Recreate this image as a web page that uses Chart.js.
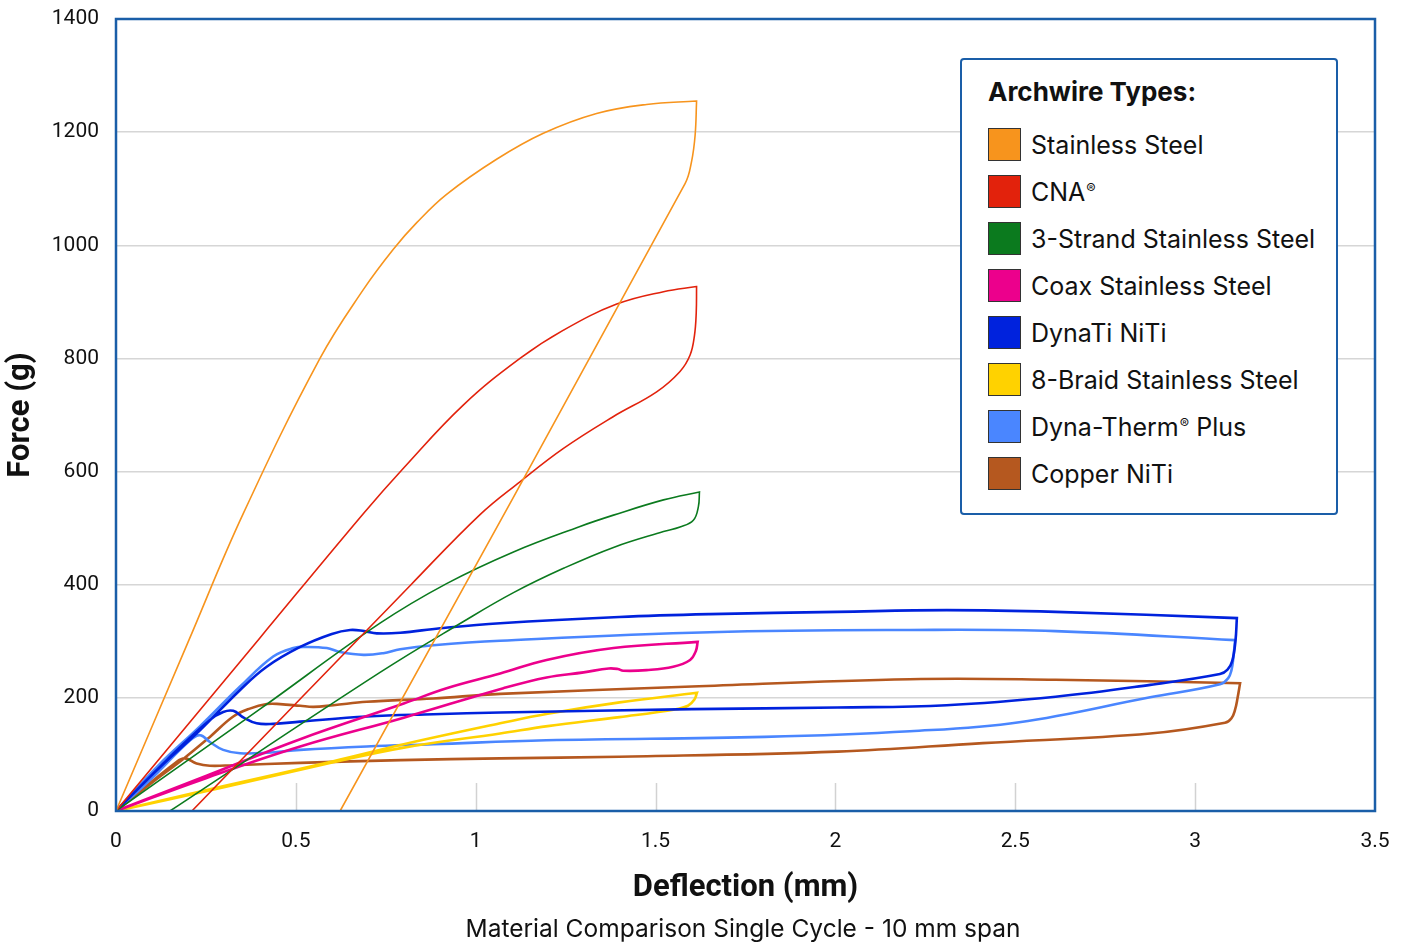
<!DOCTYPE html>
<html><head><meta charset="utf-8">
<script src="https://cdn.jsdelivr.net/npm/chart.js@4.4.0/dist/chart.umd.min.js"></script>
<style>
html,body{margin:0;padding:0;background:#fff;}
#wrap{position:relative;width:1403px;height:942px;overflow:hidden;}
#c{position:absolute;left:0;top:0;}
#legend{position:absolute;left:960px;top:58px;width:374px;height:453px;border:2px solid #1a5ea8;border-radius:4px;background:#fff;font-family:Inter,'Noto Sans',sans-serif;color:#111;}
#legend .title{position:absolute;left:26px;top:14px;font-weight:700;font-size:26px;line-height:36px;white-space:nowrap;}
#legend .sw{position:absolute;left:26px;width:31px;height:31px;border:1.5px solid #333;box-sizing:content-box;}
#legend .lab{position:absolute;left:69px;font-size:25px;line-height:34px;white-space:nowrap;}
#legend sup{font-size:14px;vertical-align:top;position:relative;top:-3px;margin-left:1px;}
#sub{position:absolute;left:743px;top:913px;transform:translateX(-50%);font-family:Inter,Roboto,sans-serif;font-size:24.5px;line-height:30px;color:#111;white-space:nowrap;}
</style></head>
<body><div id="wrap"><canvas id="c" width="1403" height="942"></canvas><div id="legend"></div><div id="sub"></div></div>
<script>
// ---------------- data ----------------
const chartSubtitle = 'Material Comparison Single Cycle - 10 mm span';
const seriesNames = ['Stainless Steel','CNA®','3-Strand Stainless Steel','Coax Stainless Steel','DynaTi NiTi','8-Braid Stainless Steel','Dyna-Therm® Plus','Copper NiTi'];
const xTickValues = [0,0.5,1,1.5,2,2.5,3,3.5];
const xTickLabels = ['0','0.5','1','1.5','2','2.5','3','3.5'];
const yTickValues = [0,200,400,600,800,1000,1200,1400];
const yTickLabels = ['0','200','400','600','800','1000','1200','1400'];

const stainlessLoad = [[0,0],[0.2,298],[0.354,526],[0.567,800],[0.688,922],[0.771,993],[0.836,1040],[0.919,1090],[1.058,1152],[1.188,1198],[1.336,1233],[1.475,1249],[1.614,1255]];
const stainlessUnload = [[1.614,1255],[1.610,1195],[1.600,1148],[1.582,1109],[0.623,0]];

const cnaLoad = [[0,0],[0.4,306],[0.688,526],[0.799,606],[0.966,718],[1.123,800],[1.244,850],[1.392,896],[1.522,918],[1.614,927]];
const cnaUnload = [[1.614,927],[1.613,880],[1.608,840],[1.596,806],[1.568,777],[1.503,741],[1.382,697],[1.244,641],[1.123,582],[1.012,524],[0.82,400],[0.211,0]];

const strandLoad = [[0,0],[0.4,180],[0.734,332],[0.919,402],[1.105,458],[1.29,503],[1.383,523],[1.522,550],[1.622,564]];
const strandUnload = [[1.622,564],[1.619,538],[1.605,514],[1.568,502],[1.522,494],[1.383,466],[1.244,429],[1.105,386],[0.966,335],[0.734,245],[0.15,0]];

const coaxLoad = [[0,0],[0.25,62],[0.512,127],[0.8,190],[0.919,217],[1.068,243],[1.197,267],[1.383,288],[1.617,299]];
const coaxUnload = [[1.617,299],[1.612,283],[1.596,267],[1.549,255],[1.475,249],[1.41,248],[1.395,251],[1.37,252],[1.3,245],[1.197,236],[1.077,217],[0.8,165],[0.512,114],[0.25,58],[0,0]];

const dynatiLoad = [[0,0],[0.12,76],[0.234,143],[0.345,214],[0.419,255],[0.512,290],[0.6,313],[0.651,320],[0.69,318],[0.725,314],[0.79,315],[0.901,323],[1.068,332],[1.399,343],[1.651,348],[2.005,352],[2.309,355],[2.612,352],[3.116,341]];
const dynatiUnload = [[3.116,341],[3.112,300],[3.103,265],[3.09,250],[3.069,242],[2.875,223],[2.612,202],[2.309,187],[2.005,183],[1.601,180],[1.068,174],[0.882,171],[0.697,167],[0.512,158],[0.437,154],[0.391,155],[0.355,165],[0.326,177],[0.298,175],[0.261,161],[0.141,90],[0,0]];

const braidLoad = [[0,0],[0.3,44],[0.604,88],[0.8,118],[1.068,155],[1.2,172],[1.4,192],[1.615,209]];
const braidUnload = [[1.615,209],[1.608,197],[1.59,186],[1.55,179],[1.4,166],[1.2,150],[1.068,137],[0.8,112],[0.604,86],[0.3,42],[0,0]];

const thermLoad = [[0,0],[0.12,82],[0.234,150],[0.345,220],[0.437,273],[0.493,288],[0.53,290],[0.586,288],[0.623,281],[0.688,276],[0.743,279],[0.79,286],[0.882,293],[1.068,301],[1.651,316],[2.207,320],[2.612,318],[3.111,302]];
const thermUnload = [[3.111,302],[3.106,270],[3.101,249],[3.092,235],[3.069,224],[2.875,201],[2.511,157],[2.207,141],[1.803,131],[1.196,125],[0.882,118],[0.697,114],[0.512,108],[0.419,103],[0.345,102],[0.298,108],[0.261,122],[0.234,134],[0.206,125],[0.095,55],[0,0]];

const copperLoad = [[0,0],[0.1,50],[0.187,92],[0.261,131],[0.326,167],[0.372,181],[0.419,189],[0.456,189],[0.512,186],[0.549,184],[0.604,187],[0.697,193],[0.882,199],[1.068,207],[1.601,220],[2.207,233],[2.612,232],[3.125,226]];
const copperUnload = [[3.125,226],[3.118,200],[3.111,179],[3.101,164],[3.083,156],[2.875,137],[2.41,120],[2.005,105],[1.399,96],[1.068,93],[0.792,90],[0.512,85],[0.326,81],[0.261,80],[0.224,84],[0.192,93],[0.169,87],[0,0]];

const seriesLoops = [
  [stainlessLoad, stainlessUnload],
  [cnaLoad, cnaUnload],
  [strandLoad, strandUnload],
  [coaxLoad, coaxUnload],
  [dynatiLoad, dynatiUnload],
  [braidLoad, braidUnload],
  [thermLoad, thermUnload],
  [copperLoad, copperUnload]
];

// ---------------- styles ----------------
const seriesColors = ['#f7941d','#e2220c','#0b7a1e','#ec008c','#0022dd','#ffd200','#4a86ff','#b5581f'];
const seriesWidths = [1.6,1.6,1.6,2.6,2.6,2.6,2.6,2.6];
const tickFont = {family:'Roboto', size:21};

const datasets = seriesNames.map((name,i)=>({
  label: name,
  data: seriesLoops[i][0].concat(seriesLoops[i][1]).map(p=>({x:p[0],y:p[1]})),
  showLine: true,
  borderColor: seriesColors[i],
  backgroundColor: seriesColors[i],
  borderWidth: seriesWidths[i],
  pointRadius: 0,
  pointHoverRadius: 0,
  tension: 0.4,
  fill: false
}));

function zeroPad(s){ s.paddingTop=0; s.paddingBottom=0; s.paddingLeft=0; s.paddingRight=0; }

const framePlugin = {
  id:'frame',
  beforeDraw(chart){
    const c=chart.ctx; c.save(); c.fillStyle='#fff'; c.fillRect(0,0,chart.width,chart.height); c.restore();
  },
  beforeDatasetsDraw(chart){
    const {ctx, chartArea:a, scales:{x}} = chart;
    ctx.save();
    ctx.strokeStyle='#d2d2d2'; ctx.lineWidth=1.5;
    xTickValues.forEach(v=>{
      if(v<=0||v>=3.5) return;
      const px=Math.round(x.getPixelForValue(v))+0.5;
      ctx.beginPath(); ctx.moveTo(px,a.bottom-28); ctx.lineTo(px,a.bottom); ctx.stroke();
    });
    ctx.restore();
  },
  afterDatasetsDraw(chart){
    const {ctx, chartArea:a} = chart;
    ctx.save();
    ctx.strokeStyle='#1a5ea8'; ctx.lineWidth=2.5;
    ctx.strokeRect(a.left,a.top,a.right-a.left,a.bottom-a.top);
    ctx.restore();
  }
};

new Chart(document.getElementById('c'), {
  type:'scatter',
  data:{datasets},
  options:{
    responsive:false, animation:false, maintainAspectRatio:false,
    layout:{padding:{top:19,right:28,left:0,bottom:0}},
    plugins:{ legend:{display:false}, tooltip:{enabled:false} },
    scales:{
      x:{type:'linear', min:0, max:3.5,
        afterBuildTicks(s){ s.ticks = xTickValues.map(v=>({value:v})); },
        afterFit(s){ s.height = 131; zeroPad(s); },
        ticks:{callback:(v)=>{const i=xTickValues.indexOf(v);return i>=0?xTickLabels[i]:'';}, font:tickFont, color:'#111', padding:18, maxRotation:0, autoSkip:false},
        grid:{display:false, drawTicks:false},
        border:{display:false},
        title:{display:true, text:'Deflection (mm)', color:'#111', font:{family:'Roboto', size:31, weight:'bold', lineHeight:1.2}, padding:{top:0,bottom:35}}
      },
      y:{type:'linear', min:0, max:1400,
        afterBuildTicks(s){ s.ticks = yTickValues.map(v=>({value:v})); },
        afterFit(s){ s.width = 116; zeroPad(s); },
        ticks:{callback:(v)=>{const i=yTickValues.indexOf(v);return i>=0?yTickLabels[i]:'';}, font:tickFont, color:'#111', padding:17, autoSkip:false},
        grid:{color:'#d6d6d6', lineWidth:1.5, drawTicks:false},
        border:{display:false},
        title:{display:true, text:'Force (g)', color:'#111', font:{family:'Roboto', size:31, weight:'bold', lineHeight:1.2}, padding:{top:3,bottom:0}}
      }
    }
  },
  plugins:[framePlugin]
});

// ---------------- legend + subtitle (HTML text, built from the arrays) ----------------
document.getElementById('sub').textContent = chartSubtitle;
const leg = document.getElementById('legend');
let html = '<div class="title">Archwire Types:</div>';
seriesNames.forEach((n,i)=>{
  const top = 68 + i*47;
  const txt = n.replace('®','<sup>®</sup>');
  html += '<div class="sw" style="top:'+top+'px;background:'+seriesColors[i]+'"></div>';
  html += '<div class="lab" style="top:'+top+'px">'+txt+'</div>';
});
leg.innerHTML = html;
</script></body></html>
